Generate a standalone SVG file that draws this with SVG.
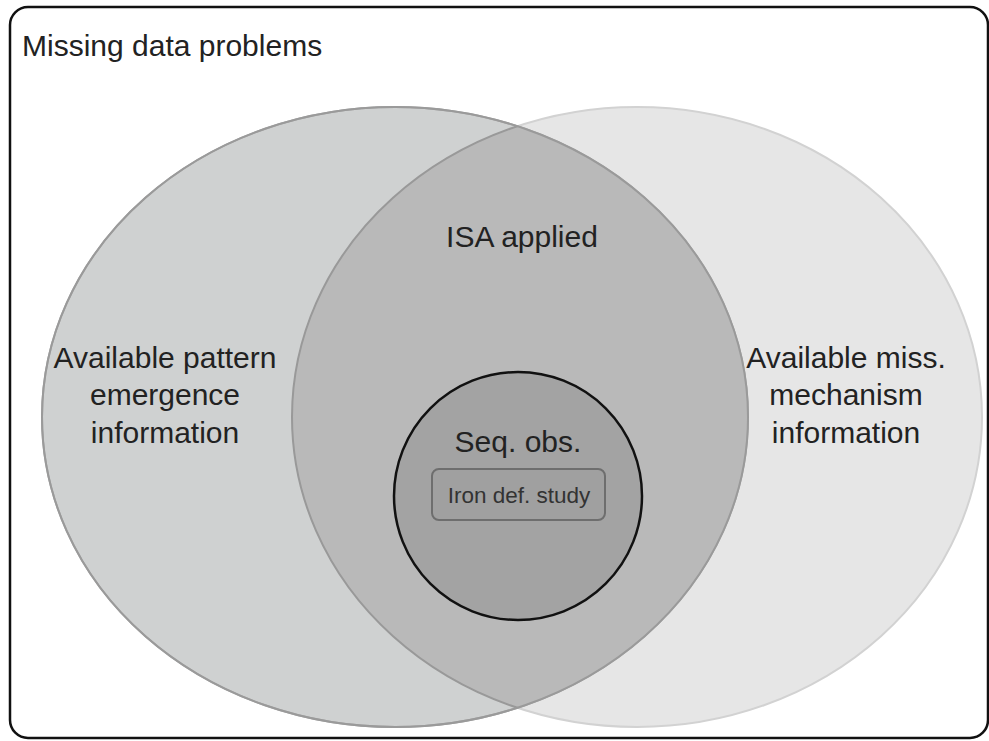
<svg xmlns="http://www.w3.org/2000/svg" width="989" height="741" viewBox="0 0 989 741">
<style>
text{font-family:"Liberation Sans",Arial,sans-serif;fill:#222;text-anchor:middle}
.big{font-size:30px}
</style>
<defs>
<clipPath id="clipL"><ellipse cx="395" cy="417" rx="353" ry="310"/></clipPath>
</defs>
<rect x="0" y="0" width="989" height="741" fill="#fff"/>
<g id="frame">
<rect x="10" y="7" width="978" height="731" rx="18" fill="none" stroke="#111" stroke-width="2.5"/>
<text x="22" y="56" class="big" style="text-anchor:start">Missing data problems</text>
</g>
<g id="rightSet">
<ellipse cx="637" cy="417" rx="345" ry="310" fill="#e6e6e6" stroke="#d2d2d2" stroke-width="2"/>
</g>
<g id="leftSet">
<ellipse cx="395" cy="417" rx="353" ry="310" fill="#cfd1d1" stroke="#a9a9a9" stroke-width="2"/>
</g>
<g id="isa">
<ellipse cx="637" cy="417" rx="345" ry="310" fill="#b9b9b9" stroke="#999" stroke-width="2" clip-path="url(#clipL)"/>
<ellipse cx="395" cy="417" rx="353" ry="310" fill="none" stroke="#9a9a9a" stroke-width="2"/>
<text x="522" y="247" class="big">ISA applied</text>
</g>
<g id="leftLabel">
<text x="165" y="368" class="big">Available pattern</text>
<text x="165" y="405" class="big">emergence</text>
<text x="165" y="443" class="big">information</text>
</g>
<g id="rightLabel">
<text x="846" y="368" class="big">Available miss.</text>
<text x="846" y="405" class="big">mechanism</text>
<text x="846" y="443" class="big">information</text>
</g>
<g id="seqObs">
<circle cx="518" cy="496" r="124" fill="#a3a3a3" stroke="#111" stroke-width="2.5"/>
<text x="518" y="452" class="big">Seq. obs.</text>
</g>
<g id="ironDef">
<rect x="432" y="469" width="173" height="51" rx="7" fill="#a0a0a0" stroke="#6e6e6e" stroke-width="2"/>
<text x="519" y="503" style="font-size:22.5px;fill:#333">Iron def. study</text>
</g>
<g id="connectors"/>
</svg>
